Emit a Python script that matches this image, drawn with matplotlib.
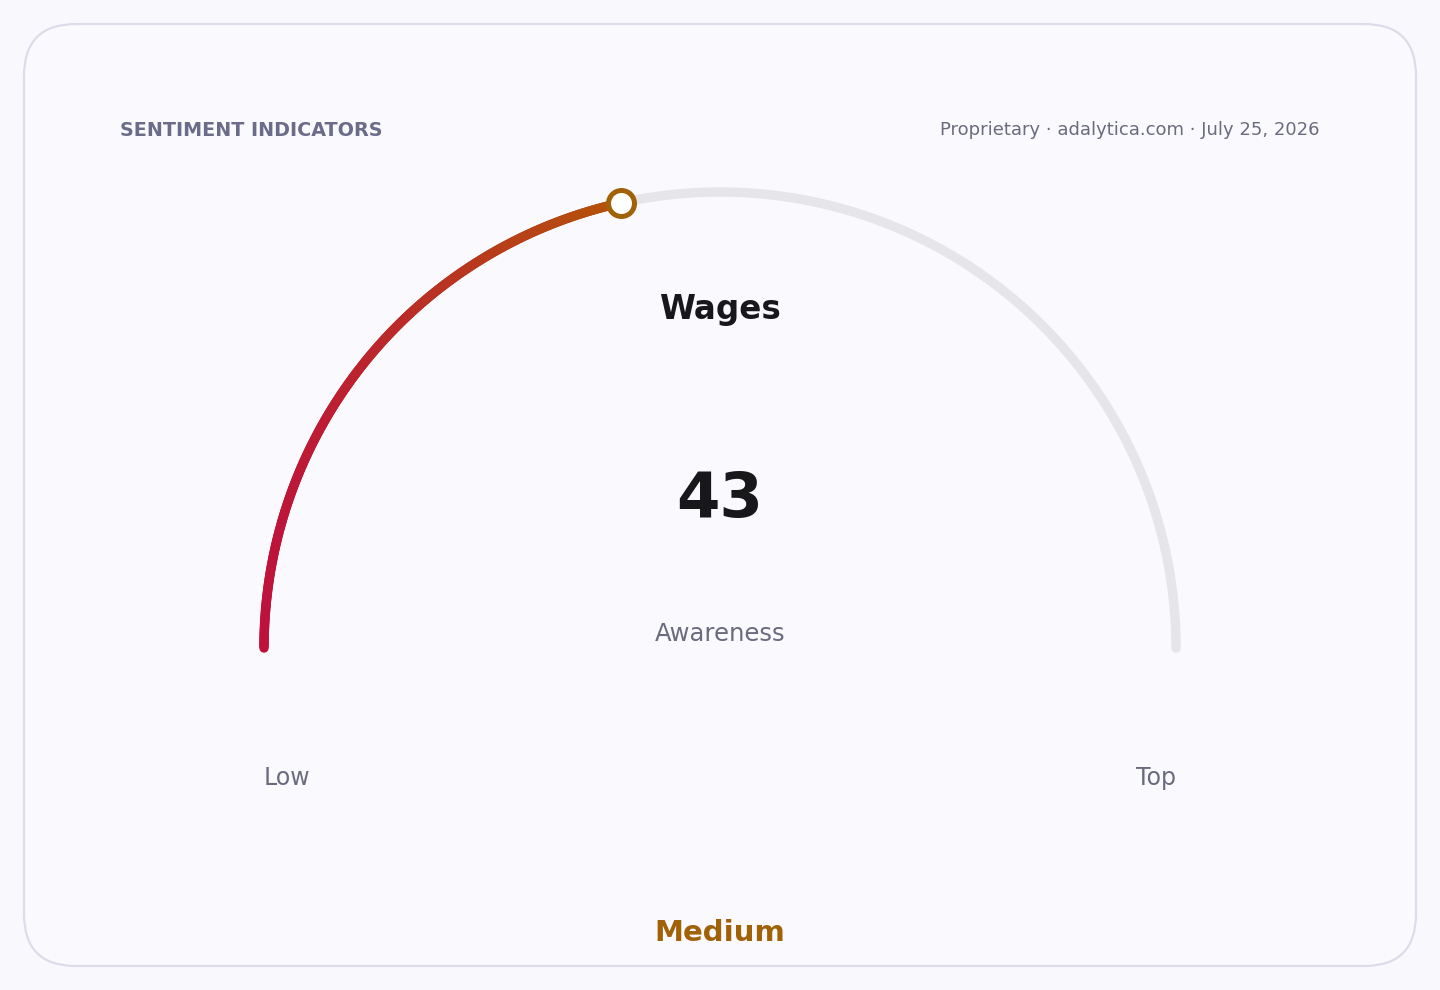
import numpy as np
import matplotlib
matplotlib.use("Agg")
import matplotlib.pyplot as plt
from matplotlib.collections import LineCollection
from matplotlib.patches import FancyBboxPatch
from matplotlib.colors import LinearSegmentedColormap

# ---- data ----
title = "SENTIMENT INDICATORS"
source = "Proprietary · adalytica.com · July 25, 2026"
metric = "Wages"
value = 43
vmin, vmax = 0, 100
unit_label = "Awareness"
min_label, max_label = "Low", "Top"
band_label = "Medium"

W, H = 1440, 990
fig = plt.figure(figsize=(W / 100, H / 100), dpi=100)
fig.patch.set_facecolor("#f8f8fd")
ax = fig.add_axes([0, 0, 1, 1])
ax.set_xlim(0, W)
ax.set_ylim(H, 0)
ax.axis("off")

# card
card = FancyBboxPatch((24, 24), 1392, 942, boxstyle="round,pad=0,rounding_size=52",
                      facecolor="#f9f9fe", edgecolor="#dddde9", linewidth=1.6)
ax.add_patch(card)

cx, cy, R = 720, 648, 456

def pt(v):
    ang = np.pi * (1 - (v - vmin) / (vmax - vmin))
    return cx + R * np.cos(ang), cy - R * np.sin(ang)

# track
tv = np.linspace(vmin, vmax, 400)
tx, ty = pt(tv)
ax.plot(tx, ty, color="#e5e5ea", lw=6.8, solid_capstyle="round", zorder=2)

# value arc with horizontal gradient
vv = np.linspace(vmin, value, 300)
vx, vy = pt(vv)
pts = np.column_stack([vx, vy]).reshape(-1, 1, 2)
segs = np.concatenate([pts[:-1], pts[1:]], axis=1)
cmap = LinearSegmentedColormap.from_list("g", ["#be123c", "#b45309"])
midx = (vx[:-1] + vx[1:]) / 2
t = (midx - vx.min()) / (vx.max() - vx.min())
lc = LineCollection(segs, colors=cmap(t), linewidths=6.8, capstyle="round", zorder=3)
ax.add_collection(lc)

mx, my = pt(value)
ax.scatter([mx], [my], s=350, facecolor="white", edgecolor="#a16207", linewidth=3.6, zorder=5)

# texts
ax.text(120, 130, title, fontsize=13.8, fontweight="bold", color="#6b6b8a",
        ha="left", va="center")
ax.text(1320, 130, source, fontsize=12.95, color="#6b6b80", ha="right", va="center")
ax.text(cx, 309, metric, fontsize=23.5, fontweight="bold", color="#18181b",
        ha="center", va="center")
ax.text(cx, 500, str(value), fontsize=45, fontweight="bold", color="#18181b",
        ha="center", va="center")
ax.text(cx, 634, unit_label, fontsize=17.5, color="#6b6b80", ha="center", va="center")
ax.text(264, 778, min_label, fontsize=17, color="#6b6b80", ha="left", va="center")
ax.text(1176, 778, max_label, fontsize=17, color="#6b6b80", ha="right", va="center")
ax.text(cx, 933, band_label, fontsize=21, fontweight="bold", color="#a16207",
        ha="center", va="center")

fig.savefig("out.png", dpi=100, facecolor=fig.get_facecolor())
